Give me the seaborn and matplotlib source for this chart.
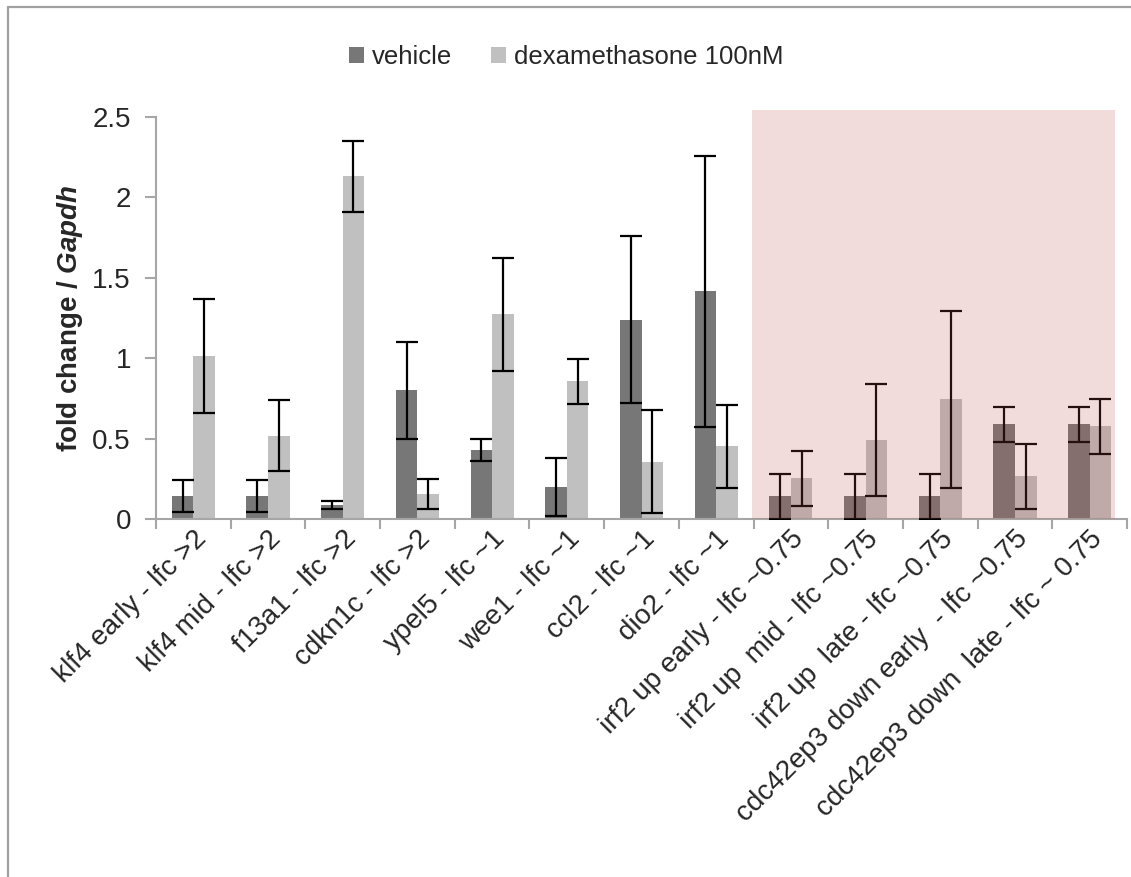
import matplotlib
matplotlib.use("Agg")
import matplotlib.pyplot as plt
from matplotlib.patches import Rectangle, Patch
from matplotlib.lines import Line2D
import seaborn as sns
import pandas as pd
import numpy as np

# --- data -----------------------------------------------------------------
genes = [
    "klf4 early - lfc >2",
    "klf4 mid - lfc >2",
    "f13a1 - lfc >2",
    "cdkn1c - lfc >2",
    "ypel5 - lfc ~1",
    "wee1 - lfc ~1",
    "ccl2 - lfc ~1",
    "dio2 - lfc ~1",
    "irf2 up early - lfc ~0.75",
    "irf2 up  mid - lfc ~0.75",
    "irf2 up  late - lfc ~0.75",
    "cdc42ep3 down early  - lfc ~0.75",
    "cdc42ep3 down  late - lfc ~ 0.75",
]
vehicle = [0.145, 0.145, 0.085, 0.80, 0.43, 0.197, 1.24, 1.415, 0.141, 0.141, 0.141, 0.588, 0.588]
vehicle_err = [0.10, 0.10, 0.025, 0.30, 0.07, 0.18, 0.52, 0.84, 0.14, 0.14, 0.14, 0.11, 0.11]
dexa = [1.015, 0.517, 2.13, 0.155, 1.273, 0.857, 0.356, 0.452, 0.253, 0.49, 0.745, 0.265, 0.576]
dexa_err = [0.355, 0.22, 0.22, 0.095, 0.35, 0.14, 0.32, 0.26, 0.17, 0.35, 0.55, 0.20, 0.17]
treatments = ["vehicle", "dexamethasone 100nM"]
yticks = [0, 0.5, 1, 1.5, 2, 2.5]
ytick_labels = ["0", "0.5", "1", "1.5", "2", "2.5"]

# --- style ----------------------------------------------------------------
sns.set_style("white")
plt.rcParams["font.family"] = ["Liberation Sans", "DejaVu Sans"]
plt.rcParams["mathtext.fontset"] = "custom"
plt.rcParams["mathtext.it"] = "Liberation Sans:italic:bold"
plt.rcParams["mathtext.rm"] = "Liberation Sans:bold"

FS = 20
colors = {"vehicle": "#777777", "dexamethasone 100nM": "#C0C0C0"}
axis_grey = "#A6A6A6"

df = pd.DataFrame({
    "gene": genes * 2,
    "treatment": [treatments[0]] * len(genes) + [treatments[1]] * len(genes),
    "value": vehicle + dexa,
})

fig = plt.figure(figsize=(11.31, 8.77), dpi=100)
ax = fig.add_axes([0.1379, 0.4082, 0.8586, 0.4584])

sns.barplot(data=df, x="gene", y="value", hue="treatment", order=genes,
            hue_order=treatments, palette=colors, errorbar=None,
            width=0.576, gap=0, saturation=1, ax=ax, legend=False,
            edgecolor="none", linewidth=0)

# error bars at the centre of each bar
for cont, errs in zip(ax.containers, [vehicle_err, dexa_err]):
    xs = [p.get_x() + p.get_width() / 2 for p in cont.patches]
    hs = [p.get_height() for p in cont.patches]
    ax.errorbar(xs, hs, yerr=errs, fmt="none", ecolor="black",
                elinewidth=1.6, capsize=8, capthick=1.6, zorder=5)

# highlighted block of the lower-change genes
ax.add_patch(Rectangle((7.48, 0), 4.86, 2.545, facecolor="#C0504D", alpha=0.2,
                       edgecolor="none", zorder=10, clip_on=False))

ax.set_xlim(-0.5, len(genes) - 0.5)
ax.set_ylim(0, 2.5)
ax.set_yticks(yticks)
ax.set_yticklabels(ytick_labels, fontsize=FS)

# category boundaries as x ticks, labels at the category centres
ax.set_xticks(np.arange(-0.5, len(genes) + 0.5, 1.0))
ax.set_xticklabels([])
ax.set_xticks(np.arange(len(genes)), minor=True)
ax.set_xticklabels(genes, minor=True, rotation=45, ha="right",
                   rotation_mode="anchor", fontsize=FS)
ax.tick_params(axis="x", which="major", direction="out", length=7, width=1.5,
               color=axis_grey, bottom=True)
ax.tick_params(axis="x", which="minor", length=0, pad=5)
ax.tick_params(axis="y", direction="out", length=8, width=1.5, color=axis_grey,
               left=True, pad=10)

ax.set_xlabel("")
ax.set_ylabel(r"fold change / $\mathit{Gapdh}$", fontsize=FS,
              fontweight="bold", labelpad=5)

for side in ["top", "right"]:
    ax.spines[side].set_visible(False)
for side in ["left", "bottom"]:
    ax.spines[side].set_color(axis_grey)
    ax.spines[side].set_linewidth(1.5)

handles = [Patch(facecolor=colors[t], edgecolor="none") for t in treatments]
fig.legend(handles, treatments, loc="center",
           bbox_to_anchor=(566 / 1131, 1 - 57 / 877), ncol=2, frameon=False,
           fontsize=18.5, handlelength=0.6, handleheight=0.6,
           handletextpad=0.3, columnspacing=1.5)

# frame of the chart area
fig.add_artist(Line2D([8 / 1131, 8 / 1131], [0, 1 - 7 / 877], color="#A0A0A0",
                      linewidth=1.6))
fig.add_artist(Line2D([8 / 1131, 1], [1 - 7 / 877, 1 - 7 / 877], color="#A0A0A0",
                      linewidth=1.6))

fig.savefig("out.png", dpi=100)
